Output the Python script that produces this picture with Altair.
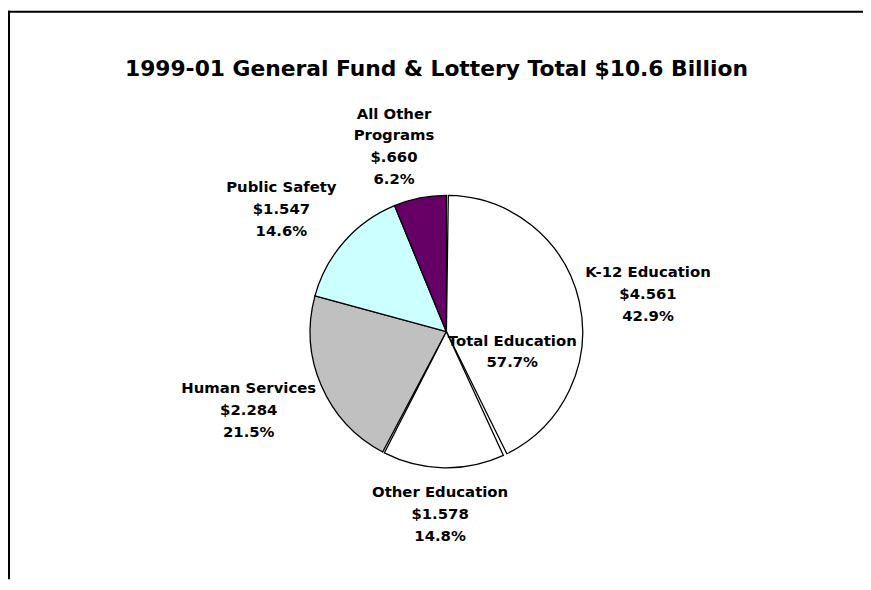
import math
import altair as alt
import pandas as pd

# ---- data ----
categories = ["K-12 Education", "Other Education", "Human Services", "Public Safety", "All Other Programs"]
amounts = [4.561, 1.578, 2.284, 1.547, 0.660]          # $ billions
percents = ["42.9%", "14.8%", "21.5%", "14.6%", "6.2%"]
label_names = ["K-12 Education", "Other Education", "Human Services", "Public Safety", "All Other\nPrograms"]
colors = ["#FFFFFF", "#FFFFFF", "#C0C0C0", "#CCFFFF", "#660066"]

title_text = "1999-01 General Fund & Lottery Total $10.6 Billion"
group_name = "Total Education"
group_members = ["K-12 Education", "Other Education"]
group_percent = "57.7%"

# ---- layout / style ----
W, H = 863, 574
CX, CY = 442.5, 324
R = 137.5
FONT = "DejaVu Sans"
FS = 15
LH = 22
PAD = 0.028                      # small "explode" gap of the education slices
label_radius = [207.0, 184.1, 214.6, 207.6, 194.4]
label_shift_deg = [2.2, 0.8, 1.8, -4.8, -4.6]
group_radius = 69.4
group_shift_deg = 2.8

# ---- tables ----
pie_df = pd.DataFrame({"category": categories, "amount": amounts, "idx": range(len(categories))})
total = sum(amounts)


def anchor(angle, r, text):
    """polar position of a label block's centre -> polar position of its first line"""
    n = text.count("\n") + 1
    bx = r * math.sin(angle)
    by = -r * math.cos(angle) - (n - 1) * LH / 2
    return math.atan2(bx, -by), math.hypot(bx, by)


rows = []
cum = 0.0
for name, amt, pct, lab, r, sh in zip(categories, amounts, percents, label_names, label_radius, label_shift_deg):
    mid = (cum + amt / 2) / total * 2 * math.pi + math.radians(sh)
    money = f"${amt:.3f}"
    if money.startswith("$0."):
        money = "$" + money[2:]
    text = f"{lab}\n{money}\n{pct}"
    a, rr = anchor(mid, r, text)
    rows.append({"text": text, "ang": a, "r": rr})
    cum += amt
grp_amt = sum(a for c, a in zip(categories, amounts) if c in group_members)
gtext = f"{group_name}\n{group_percent}"
ga, gr = anchor(grp_amt / 2 / total * 2 * math.pi + math.radians(group_shift_deg), group_radius, gtext)
rows.append({"text": gtext, "ang": ga, "r": gr})
label_df = pd.DataFrame(rows)

# ---- pie (cumulative angles computed from the full table, then split) ----
base = alt.Chart(pie_df).transform_window(
    cum="sum(amount)", sort=[alt.SortField("idx")], frame=[None, 0]
).transform_calculate(start="datum.cum - datum.amount")

theta_scale = alt.Scale(domain=[0, total], range=[0, 2 * math.pi])
arc_enc = dict(
    theta=alt.Theta("start:Q", scale=theta_scale, stack=None),
    theta2="cum:Q",
    color=alt.Color("category:N", scale=alt.Scale(domain=categories, range=colors), legend=None),
    x=alt.value(CX),
    y=alt.value(CY),
)
in_group = alt.FieldOneOfPredicate(field="category", oneOf=group_members)

pie_rest = base.transform_filter(~in_group).mark_arc(
    outerRadius=R, stroke="black", strokeWidth=1.3).encode(**arc_enc)
pie_group = base.transform_filter(in_group).mark_arc(
    outerRadius=R, stroke="black", strokeWidth=1.3, padAngle=PAD).encode(**arc_enc)

labels = alt.Chart(label_df).mark_text(
    font=FONT, fontSize=FS, fontWeight="bold", color="black",
    lineBreak="\n", lineHeight=LH, align="center", baseline="middle",
).encode(
    theta=alt.Theta("ang:Q", scale=None, stack=None),
    radius=alt.Radius("r:Q", scale=None),
    text="text:N",
    x=alt.value(CX),
    y=alt.value(CY),
)

frame_df = pd.DataFrame({"k": [0]})
frame_left = alt.Chart(frame_df).mark_rule(color="black", strokeWidth=2).encode(
    x=alt.value(1), y=alt.value(0), y2=alt.value(H))
frame_top = alt.Chart(frame_df).mark_rule(color="black", strokeWidth=2).encode(
    x=alt.value(0), x2=alt.value(W), y=alt.value(1))

chart = alt.layer(pie_rest, pie_group, labels, frame_left, frame_top).resolve_scale(
    theta="independent", radius="independent"
).properties(
    width=W, height=H,
    autosize=alt.AutoSizeParams(type="none"),
    padding=0,
    title=alt.Title(title_text, font=FONT, fontSize=22, fontWeight="bold", color="black",
                    anchor="middle", offset=0, baseline="alphabetic", dy=89, dx=1),
).configure(
    background="white",
    view=alt.ViewConfig(stroke="transparent", strokeWidth=0),
)

chart.save("out.html", embed_options={"renderer": "svg", "actions": False})
